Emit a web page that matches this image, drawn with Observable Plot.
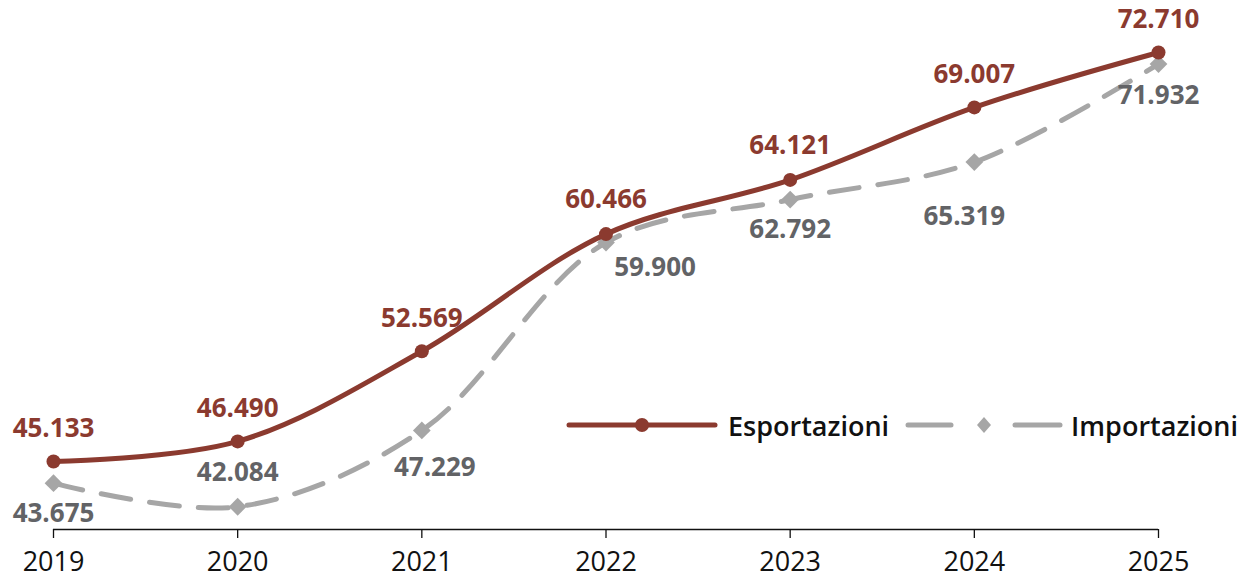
<!DOCTYPE html>
<html><head><meta charset="utf-8">
<script src="https://cdn.jsdelivr.net/npm/d3@7"></script>
<script src="https://cdn.jsdelivr.net/npm/@observablehq/plot@0.6"></script>
<style>
body{margin:0;background:#fff;}
#wrap{position:relative;width:1249px;height:580px;}
#legend{position:absolute;left:566px;top:410px;height:30px;display:flex;align-items:center;font-family:"Open Sans",sans-serif;font-size:27px;font-weight:600;color:#111;white-space:nowrap;}
#legend svg{display:block;}
</style></head><body>
<div id="wrap"><div id="legend"></div></div>
<script>
const years = [2019, 2020, 2021, 2022, 2023, 2024, 2025];
const esportazioni = [45133, 46490, 52569, 60466, 64121, 69007, 72710];
const importazioni = [43675, 42084, 47229, 59900, 62792, 65319, 71932];
const seriesNames = ["Esportazioni", "Importazioni"];

// layout / style (not data)
const colExp = "#8B3A2F", colImp = "#A6A6A6", colImpText = "#626366";
const expLabelOffsets = [[0,-33],[0,-33],[0,-33],[0,-34],[0,-34],[0,-33],[0,-33]];
const impLabelOffsets = [[0,31],[0,-34],[13,37],[49,25],[0,30],[-10,55],[0,32]];

const it = d3.formatLocale({decimal: ",", thousands: ".", grouping: [3], currency: ["€", ""]});
const fmt = it.format(",d");

const rows = years.map((yr, i) => ({year: yr, exp: esportazioni[i], imp: importazioni[i]}));

const labelMarks = [];
rows.forEach((r, i) => {
  labelMarks.push(Plot.text([r], {x: "year", y: "exp", text: d => fmt(d.exp), dx: expLabelOffsets[i][0], dy: expLabelOffsets[i][1], fill: colExp, fontSize: 26, fontWeight: 700}));
  labelMarks.push(Plot.text([r], {x: "year", y: "imp", text: d => fmt(d.imp), dx: impLabelOffsets[i][0], dy: impLabelOffsets[i][1], fill: colImpText, fontSize: 26, fontWeight: 700}));
});

const chart = Plot.plot({
  width: 1249,
  height: 580,
  marginLeft: 0, marginRight: 0, marginTop: 0, marginBottom: 51,
  style: {fontFamily: "Open Sans, sans-serif", background: "transparent", overflow: "visible"},
  x: {domain: [years[0], years[years.length - 1]], range: [53, 1158]},
  y: {domain: [40550, 72710], range: [529, 52], axis: null},
  marks: [
    Plot.ruleY([40550], {x1: years[0], x2: years[years.length - 1], stroke: "#111", strokeWidth: 1.3}),
    Plot.axisX(years, {tickSize: 9, tickPadding: 13, fontSize: 27, tickFormat: d => String(d), fill: "#111", stroke: "#111", strokeWidth: 1.3, label: null}),
    Plot.line(rows, {x: "year", y: "imp", stroke: colImp, strokeWidth: 5, strokeDasharray: "30,19", strokeLinecap: "round", curve: "catmull-rom"}),
    Plot.dot(rows, {x: "year", y: "imp", symbol: "diamond2", r: 8, fill: colImp, stroke: "none"}),
    Plot.line(rows, {x: "year", y: "exp", stroke: colExp, strokeWidth: 5, strokeLinecap: "round", curve: "catmull-rom"}),
    Plot.dot(rows, {x: "year", y: "exp", r: 7, fill: colExp, stroke: "none"}),
    ...labelMarks
  ]
});
document.getElementById("wrap").prepend(chart);

// legend
const legend = d3.select("#legend");
const s1 = legend.append("svg").attr("width", 152).attr("height", 24);
s1.append("line").attr("x1", 3).attr("x2", 149).attr("y1", 12).attr("y2", 12).attr("stroke", colExp).attr("stroke-width", 5).attr("stroke-linecap", "round");
s1.append("circle").attr("cx", 76).attr("cy", 12).attr("r", 7).attr("fill", colExp);
legend.append("span").text(seriesNames[0]).style("margin-left", "10px");
const s2 = legend.append("svg").attr("width", 158).attr("height", 24).style("margin-left", "16px");
s2.append("line").attr("x1", 3).attr("x2", 46).attr("y1", 12).attr("y2", 12).attr("stroke", colImp).attr("stroke-width", 5).attr("stroke-linecap", "round");
s2.append("path").attr("d", "M79,4 L86,12 L79,20 L72,12 Z").attr("fill", colImp);
s2.append("line").attr("x1", 110).attr("x2", 155).attr("y1", 12).attr("y2", 12).attr("stroke", colImp).attr("stroke-width", 5).attr("stroke-linecap", "round");
legend.append("span").text(seriesNames[1]).style("margin-left", "8px");
</script>
</body></html>
